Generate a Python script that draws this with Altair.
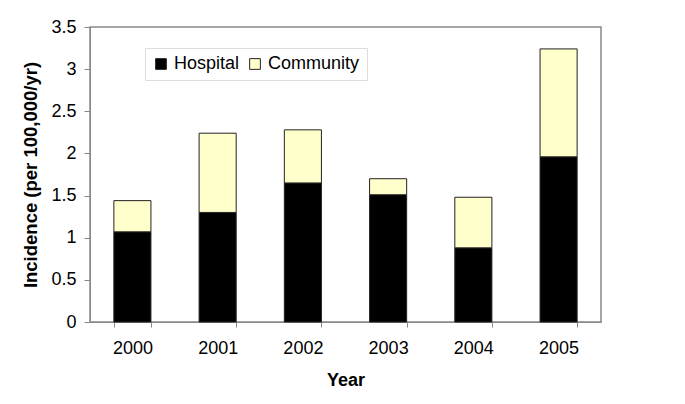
import altair as alt
import pandas as pd

years = ["2000", "2001", "2002", "2003", "2004", "2005"]
hospital = [1.07, 1.30, 1.65, 1.51, 0.88, 1.96]
community = [0.37, 0.94, 0.63, 0.19, 0.60, 1.28]

rows = []
for y, h, c in zip(years, hospital, community):
    rows.append({"Year": y, "Type": "Hospital", "Incidence": h, "ord": 0})
    rows.append({"Year": y, "Type": "Community", "Incidence": c, "ord": 1})
df = pd.DataFrame(rows)

font = "Liberation Sans"

chart = alt.Chart(df).mark_bar(stroke="#222222", strokeWidth=1).encode(
    x=alt.X("Year:N", sort=years,
            scale=alt.Scale(paddingInner=0.565, paddingOuter=0.28),
            axis=alt.Axis(title="Year", labelAngle=0, tickBand="extent",
                          labelFontSize=18, labelFont=font, labelColor="#000",
                          titleFontSize=18, titleFont=font, titleFontWeight="bold",
                          titleColor="#000", tickSize=5, labelPadding=12,
                          titlePadding=14, domainColor="#888888", tickColor="#888888")),
    y=alt.Y("Incidence:Q", stack="zero",
            scale=alt.Scale(domain=[0, 3.5], nice=False),
            axis=alt.Axis(title="Incidence (per 100,000/yr)", values=[0, 0.5, 1, 1.5, 2, 2.5, 3, 3.5],
                          format="~g",
                          grid=False, labelFontSize=18, labelFont=font, labelColor="#000",
                          titleFontSize=18.5, titleFont=font, titleFontWeight="bold",
                          titleColor="#000", tickSize=6, labelPadding=8, titlePadding=10,
                          domainColor="#888888", tickColor="#888888")),
    color=alt.Color("Type:N", sort=["Hospital", "Community"],
                    scale=alt.Scale(domain=["Hospital", "Community"], range=["#000000", "#FFFFCC"]),
                    legend=alt.Legend(title=None, orient="none", legendX=55, legendY=21,
                                      direction="horizontal", symbolType="square",
                                      symbolSize=115, symbolStrokeColor="#222222", symbolStrokeWidth=1,
                                      labelFontSize=18, labelFont=font, labelColor="#000",
                                      strokeColor="#dddddd", padding=7, columnPadding=6,
                                      labelOffset=4)),
    order=alt.Order("ord:Q"),
).properties(
    width=511, height=295,
    autosize=alt.AutoSizeParams(type="none"),
    padding={"left": 82, "top": 19, "right": 60, "bottom": 80},
).configure_view(stroke="#888888", strokeWidth=1.5)

chart.save("out.html", embed_options={"renderer": "svg", "actions": False})
